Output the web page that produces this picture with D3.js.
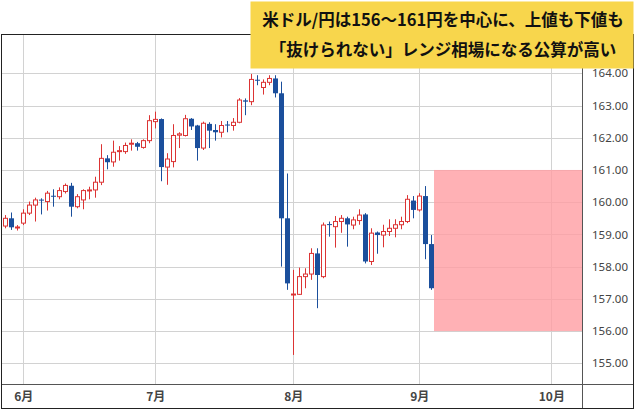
<!DOCTYPE html>
<html><head><meta charset="utf-8">
<script src="https://cdn.jsdelivr.net/npm/d3@7"></script>
<style>html,body{margin:0;padding:0;background:#fff;}svg{display:block;}</style>
</head><body>
<div id="chart"></div>
<script>
// ---- data ----
const firstIndex = -3; // trading-day index of first candle (0 = first trading day of June)
const opens  = [159.26,159.50,159.21,159.35,159.66,159.91,160.08,160.02,160.20,160.17,160.33,160.51,159.86,160.07,160.35,160.38,160.62,161.36,161.25,161.57,161.57,161.80,161.83,161.70,161.91,162.50,162.58,161.09,161.26,162.08,162.07,162.59,162.38,161.68,162.43,162.24,162.17,162.41,162.38,162.48,163.16,163.12,163.80,163.56,163.72,163.84,163.38,159.50,157.12,157.14,157.69,157.77,158.41,157.69,159.32,159.24,159.40,159.50,159.29,159.43,159.62,158.16,159.06,158.98,159.09,159.19,159.30,159.40,160.05,159.76,160.19,158.70];
const highs  = [159.60,159.68,159.29,159.78,160.02,160.14,160.12,160.35,160.40,160.46,160.58,160.60,160.25,160.40,160.48,160.79,161.80,161.46,161.91,161.74,161.85,161.95,161.87,161.95,162.70,162.81,162.60,161.52,162.42,162.17,162.71,162.61,162.40,162.50,162.48,162.42,162.52,162.52,162.61,163.23,163.22,163.98,163.94,163.81,163.94,163.94,163.74,160.89,157.90,157.97,157.95,158.57,158.57,159.37,159.40,159.57,159.60,159.55,159.55,159.78,159.66,159.19,159.09,159.30,159.47,159.47,159.55,160.22,160.19,160.28,160.50,158.98];
const lows   = [159.19,159.14,159.12,159.29,159.60,159.40,159.62,159.74,159.86,160.09,160.27,159.55,159.81,159.78,160.09,160.14,160.53,161.02,161.10,161.29,161.50,161.60,161.60,161.66,161.83,162.29,160.65,160.54,161.08,161.68,162.04,162.24,161.29,161.62,161.68,161.91,162.01,162.17,162.22,162.45,162.70,163.01,163.63,163.34,163.63,163.25,158.00,157.28,155.26,157.12,157.33,157.59,156.71,157.64,158.93,158.59,159.05,158.62,159.16,159.30,158.10,158.05,158.40,158.60,158.95,158.91,159.16,159.35,159.50,159.71,158.23,157.28];
const closes = [159.50,159.22,159.23,159.66,159.91,160.07,160.06,160.28,160.18,160.36,160.52,159.86,160.17,160.36,160.38,160.62,161.36,161.24,161.55,161.60,161.76,161.83,161.72,161.91,162.53,162.57,161.09,161.34,162.07,162.12,162.59,162.35,161.68,162.45,162.22,162.17,162.38,162.39,162.48,163.17,163.12,163.81,163.78,163.72,163.84,163.38,159.50,157.48,157.15,157.69,157.77,158.41,157.74,159.29,159.30,159.40,159.50,159.31,159.45,159.60,158.16,159.04,158.98,159.09,159.19,159.30,159.40,160.09,159.76,160.19,158.70,157.33];
const monthLabels = ["6月","7月","8月","9月","10月"];
const monthIndex  = [0, 22, 45, 66, 88]; // trading-day index of each month's first session
const priceTicks  = [155,156,157,158,159,160,161,162,163,164];
const rangeLow = 156, rangeHigh = 161;
const titleLines = ["米ドル/円は156～161円を中心に、上値も下値も","「抜けられない」レンジ相場になる公算が高い"];

const candles = opens.map((o,k)=>({i:firstIndex+k,o,h:highs[k],l:lows[k],c:closes[k]}));

// ---- layout ----
const W=639,H=412;
const plot={left:1,right:582,top:34,bottom:384};
const svg=d3.select("#chart").append("svg").attr("width",W).attr("height",H);

const x=d3.scaleLinear().domain([0,88]).range([23.3,551.3]);
const y=d3.scaleLinear().domain([155,164]).range([363.3,73.3]);

const RED="#dc3434", BLUE="#1b4f9c";

// grid
const grid=svg.append("g");
grid.selectAll("line.v").data(monthIndex).join("line")
  .attr("x1",d=>x(d)).attr("x2",d=>x(d)).attr("y1",plot.top).attr("y2",plot.bottom)
  .attr("stroke","#d2d2d2").attr("stroke-width",1).attr("shape-rendering","crispEdges");
grid.selectAll("line.h").data(priceTicks).join("line")
  .attr("x1",plot.left).attr("x2",plot.right).attr("y1",d=>Math.round(y(d))+0.5).attr("y2",d=>Math.round(y(d))+0.5)
  .attr("stroke","#d2d2d2").attr("stroke-width",1);

// range zone
const lastI=candles[candles.length-1].i;
svg.append("rect")
  .attr("x",x(lastI+0.45)).attr("width",plot.right-x(lastI+0.45))
  .attr("y",y(rangeHigh)).attr("height",y(rangeLow)-y(rangeHigh))
  .attr("fill","#ff9ea3").attr("opacity",0.8);

// candles
const cg=svg.append("g");
const up=d=>d.c>=d.o;
cg.selectAll("line.w").data(candles).join("line")
  .attr("x1",d=>Math.round(x(d.i))+0.5).attr("x2",d=>Math.round(x(d.i))+0.5)
  .attr("y1",d=>y(d.h)).attr("y2",d=>y(d.l))
  .attr("stroke",d=>up(d)?RED:BLUE).attr("stroke-width",1);
cg.selectAll("rect.b").data(candles).join("rect")
  .attr("x",d=>up(d)?Math.round(x(d.i))-1.5:Math.round(x(d.i))-2)
  .attr("width",d=>up(d)?4:5)
  .attr("y",d=>y(Math.max(d.o,d.c)))
  .attr("height",d=>Math.max(1,Math.abs(y(d.o)-y(d.c))))
  .attr("fill",d=>up(d)?"#fff":BLUE)
  .attr("stroke",d=>up(d)?RED:"none").attr("stroke-width",1);

// axes
const xAxis=d3.axisBottom(x).tickValues(monthIndex).tickFormat((d,k)=>monthLabels[k]).tickSize(0).tickPadding(8);
const gx=svg.append("g").attr("transform",`translate(0,${plot.bottom})`).call(xAxis);
gx.select(".domain").remove();
gx.selectAll("text").attr("font-family","'Noto Sans CJK JP','Noto Sans',sans-serif")
  .attr("font-size",12).attr("font-weight",600).attr("fill","#444");

const yAxis=d3.axisRight(y).tickValues(priceTicks).tickFormat(d3.format(".2f")).tickSize(0).tickPadding(10);
const gy=svg.append("g").attr("transform",`translate(${plot.right},0)`).call(yAxis);
gy.select(".domain").remove();
gy.selectAll("text").attr("font-family","'Noto Sans',sans-serif").attr("font-size",11.5).attr("fill","#444");

// frame
svg.append("line").attr("x1",plot.left).attr("x2",634).attr("y1",plot.bottom+0.5).attr("y2",plot.bottom+0.5).attr("stroke","#555");
svg.append("line").attr("x1",plot.right+0.5).attr("x2",plot.right+0.5).attr("y1",plot.top).attr("y2",409).attr("stroke","#555");
svg.append("rect").attr("x",1.5).attr("y",34.5).attr("width",632).attr("height",374).attr("fill","none").attr("stroke","#222");

// title box
svg.append("rect").attr("x",250.5).attr("y",1.5).attr("width",383).attr("height",67).attr("fill","#f8d64c");
svg.append("g").selectAll("text").data(titleLines).join("text")
  .attr("x",443).attr("y",(d,k)=>20+k*30).attr("dy","0.36em").attr("text-anchor","middle")
  .attr("font-family","'Noto Sans CJK JP',sans-serif").attr("font-weight",700).attr("font-size",16.5).attr("fill","#111")
  .text(d=>d);
</script>
</body></html>
